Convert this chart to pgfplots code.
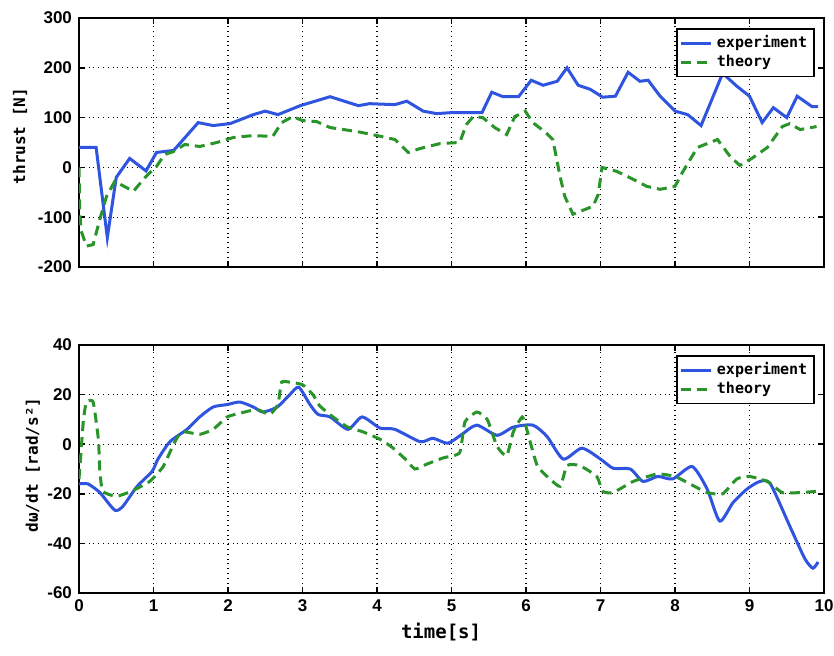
\documentclass[border=0pt]{standalone}
\usepackage{fontspec}
\setmainfont{Liberation Sans}
\newfontfamily\mono{DejaVu Sans Mono}
\usepackage{pgfplots}
\pgfplotsset{compat=1.18}
\definecolor{eblue}{rgb}{0.18,0.33,0.88}
\definecolor{tgreen}{rgb}{0.16,0.58,0.16}

\pgfplotsset{
 myax/.style={
  scale only axis, width=372.5pt, xmin=0, xmax=10, xtick={0,...,10},
  grid=major, major grid style={black, dotted, line width=0.6pt},
  tick align=inside, tick pos=both, axis line style={black, line width=0.9pt},
  every tick/.style={black, line width=0.8pt},
  major tick length=3pt,
  tick label style={font=\fontsize{8.5}{9}\selectfont\bfseries},
  /pgf/number format/assume math mode=true,
  legend style={at={(0.988,0.96)}, anchor=north east, draw=black, line width=0.8pt,
     font=\mono\fontsize{7.5}{8}\selectfont\bfseries, inner sep=1.5pt, row sep=-2pt,
     cells={anchor=west}},
  legend image code/.code={\draw[##1] (0pt,0pt) -- (15pt,0pt);},
  ylabel style={font=\mono\fontsize{8}{9}\selectfont\bfseries, anchor=center},
 },
 exp/.style={eblue, line width=1.5pt},
 thy/.style={tgreen, line width=1.5pt, dash pattern=on 5pt off 3pt},
}

\pgfplotstableread{
x y
0 40
0.23 40
0.38 -141
0.5 -20
0.68 18
0.9 -7
1.04 30
1.15 32
1.27 34
1.6 90
1.8 84
2.03 88
2.34 106
2.5 113
2.67 106
2.97 124
3.37 142
3.75 124
3.9 128
4.24 126
4.4 133
4.62 113
4.8 108
5.0 110
5.41 110
5.54 151
5.69 142
5.9 142
6.07 175
6.23 165
6.42 173
6.55 200
6.7 165
6.86 157
7.03 141
7.2 143
7.37 191
7.53 173
7.64 175
7.8 143
8.0 113
8.17 106
8.35 84
8.64 189
8.83 163
9.0 143
9.17 90
9.32 120
9.5 100
9.64 143
9.84 122
9.92 122
}\thrustexp

\pgfplotstableread{
x y
0 0
0.01 -90
0.03 -128
0.1 -158
0.19 -155
0.28 -104
0.37 -58
0.48 -28
0.73 -48
0.9 -18
1.04 2
1.15 26
1.27 32
1.42 46
1.62 42
1.85 50
2.07 60
2.34 64
2.6 62
2.72 90
2.87 102
3.0 94
3.19 92
3.37 80
3.73 72
4.0 64
4.24 56
4.42 30
4.58 38
4.85 48
5.11 50
5.2 86
5.29 102
5.42 100
5.58 80
5.74 66
5.85 102
5.99 113
6.09 90
6.25 72
6.36 56
6.46 -20
6.52 -58
6.63 -94
6.9 -78
6.97 -54
7.02 0
7.22 -8
7.44 -24
7.62 -38
7.8 -44
8.0 -38
8.1 -10
8.3 40
8.57 56
8.74 22
8.87 4
9.03 18
9.24 40
9.44 82
9.54 88
9.68 76
9.9 82
}\thrustthy

\pgfplotstableread{
x y
0 -16
0.12 -16
0.28 -19.5
0.48 -26.6
0.59 -25
0.78 -17
0.98 -11
1.06 -6
1.22 1
1.45 6
1.62 11
1.8 15
1.99 16
2.16 17
2.34 15
2.47 13
2.66 15
2.83 20
2.95 23
3.1 16
3.21 12
3.37 11
3.61 6
3.8 11
4.04 6.5
4.24 6
4.58 1
4.75 2.4
4.95 0.4
5.14 4
5.34 7.7
5.61 3.6
5.83 6.9
6.09 7.7
6.28 3.2
6.5 -6
6.75 -1.6
7.0 -6
7.17 -9.7
7.4 -10
7.57 -15
7.77 -13
7.97 -14
8.23 -9
8.43 -18
8.6 -31
8.78 -23.5
8.97 -18
9.14 -15
9.28 -16
9.54 -33
9.74 -46
9.85 -50
9.92 -47.5
}\omegaexp

\pgfplotstableread{
x y
0 -14
0.02 -6
0.06 10
0.1 17
0.19 17
0.26 2
0.28 -11
0.32 -19
0.5 -21
0.7 -19
0.95 -15
1.13 -9
1.27 0
1.38 5
1.62 4
1.8 6
1.99 11
2.16 12.5
2.39 14
2.56 12
2.67 16
2.72 25
2.83 25
3.0 24
3.14 20
3.23 15.5
3.41 11
3.6 7
3.81 5
4.04 2
4.21 -1.4
4.38 -6
4.51 -10
4.67 -8
4.89 -5.5
5.11 -3.4
5.18 9
5.34 13
5.48 10
5.61 -0.8
5.74 -4.7
5.83 5
5.95 11
6.01 6
6.15 -8.6
6.32 -14
6.46 -17
6.55 -8.6
6.72 -8.6
6.95 -13
7.03 -19
7.17 -19.5
7.44 -15
7.76 -12
8.0 -13
8.2 -16
8.43 -19.5
8.64 -20
8.83 -14
9.0 -13
9.24 -15
9.44 -19.5
9.68 -19.5
9.9 -19
}\omegathy

\begin{document}
\begin{tikzpicture}
\begin{axis}[myax, at={(0,163pt)}, anchor=south west, height=124.5pt,
  ymin=-200, ymax=300, ytick={-200,-100,...,300}, xticklabels={},
  ylabel={thrust [N]},
  ylabel style={at={(axis description cs:-0.079,0.526)}}]
\addplot[exp] table {\thrustexp};
\addplot[thy] table {\thrustthy};
\legend{experiment, theory}
\end{axis}
\begin{axis}[myax, at={(0,0)}, anchor=south west, height=124pt,
  ymin=-60, ymax=40, ytick={-60,-40,...,40},
  ylabel={dω/dt [rad/s²]},
  ylabel style={at={(axis description cs:-0.062,0.516)}},
  xlabel={time[s]},
  xlabel style={font=\mono\fontsize{9.5}{10}\selectfont\bfseries, at={(axis description cs:0.486,0)}, anchor=center, yshift=-19.5pt}]
\addplot[exp, smooth, tension=0.4] table {\omegaexp};
\addplot[thy, smooth, tension=0.3] table {\omegathy};
\legend{experiment, theory}
\end{axis}
\pgfresetboundingbox
\useasboundingbox (-39.5pt,-31pt) rectangle (377.5pt,296.5pt);
\end{tikzpicture}
\end{document}
